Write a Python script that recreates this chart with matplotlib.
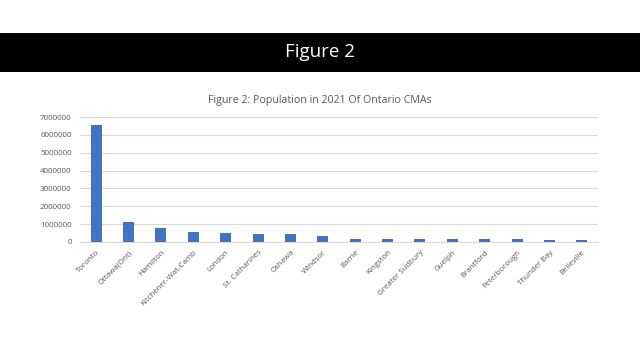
import matplotlib.pyplot as plt
import matplotlib.patches as mpatches

cmas = ["Toronto", "Ottawa(Ont)", "Hamilton", "Kitchener-Wat-Camb", "London",
        "St. Catharines", "Oshawa", "Windsor", "Barrie", "Kingston",
        "Greater Sudbury", "Guelph", "Brantford", "Peterborough",
        "Thunder Bay", "Belleville"]
population = [6570000, 1120000, 780000, 580000, 520000, 430000, 430000,
              340000, 190000, 190000, 170000, 165000, 160000, 155000,
              120000, 110000]
yticks = [0, 1000000, 2000000, 3000000, 4000000, 5000000, 6000000, 7000000]

plt.rcParams['font.family'] = ['Open Sans', 'DejaVu Sans']

fig = plt.figure(figsize=(6.4, 3.6), dpi=100)

# black banner with heading
fig.patches.append(mpatches.Rectangle((0, 1 - 72 / 360), 1, 39 / 360,
                                      transform=fig.transFigure,
                                      facecolor='black', zorder=0))
fig.text(0.5, 1 - 52 / 360, "Figure 2", color='white', fontsize=13.5,
         ha='center', va='center')

ax = fig.add_axes([80 / 640, 1 - 242 / 360, 518 / 640, 125 / 360])
x = range(len(cmas))
ax.bar(x, population, width=0.34, color='#4472c4', zorder=3)
ax.set_xlim(-0.5, len(cmas) - 0.5)
ax.set_ylim(0, 7000000)
ax.set_yticks(yticks)
ax.set_yticklabels([str(v) for v in yticks])
ax.set_xticks(list(x))
ax.set_xticklabels(cmas, rotation=45, ha='right', rotation_mode='anchor')
ax.tick_params(axis='y', length=0, labelsize=5.8, colors='#595959', pad=6)
ax.tick_params(axis='x', length=0, labelsize=5.7, colors='#595959', pad=5)
ax.grid(axis='y', color='#d9d9d9', linewidth=0.8, zorder=0)
for side in ['top', 'right', 'left']:
    ax.spines[side].set_visible(False)
ax.spines['bottom'].set_color('#d9d9d9')

fig.text(320 / 640, 1 - 101 / 360, "Figure 2: Population in 2021 Of Ontario CMAs",
         color='#595959', fontsize=7.7, ha='center', va='center')

fig.savefig("out.png", dpi=100)
